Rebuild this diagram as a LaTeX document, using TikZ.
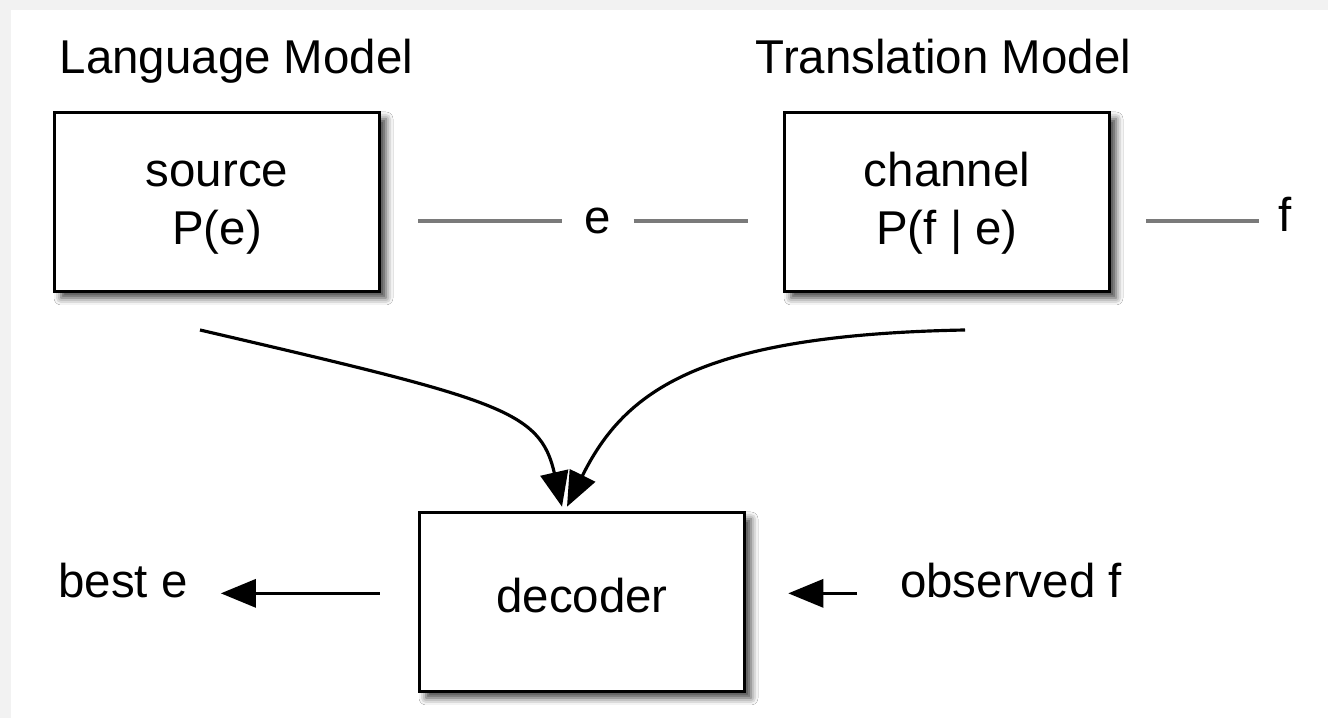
\documentclass[tikz,border=0pt]{standalone}
\usepackage{fontspec}
\setmainfont{Liberation Sans}
\usepackage{xcolor}
\usepackage{tikz}
\usetikzlibrary{calc}
\usetikzlibrary{arrows.meta}
\usetikzlibrary{shadows.blur}
\definecolor{framegray}{HTML}{F2F2F2}
\definecolor{wiregray}{HTML}{7A7A7A}
\def\bigfont{\fontsize{27}{33}\selectfont}

\begin{document}
\begin{tikzpicture}[font=\bigfont,
	model/.style={draw=black,line width=2pt,fill=white,minimum width=6.5cm,minimum height=3.58cm,align=center,inner sep=0pt,
		blur shadow={shadow xshift=0.13cm,shadow yshift=-0.13cm,shadow blur radius=0.14cm,shadow opacity=75}},
	wire/.style={draw=wiregray,line width=2.8pt},
	feed/.style={draw=black,line width=1.8pt,-{Triangle[length=0.7cm,width=0.56cm]}}]
					\useasboundingbox (0,0) rectangle (26.56,14.36);
					\fill[framegray] (0,0) rectangle (26.56,14.36);
					\fill[white] (0.22,0) rectangle (26.56,14.16);
					\node[anchor=base] (lm) at (4.73,12.88) {Language Model};
					\node[anchor=base] (tm) at (18.87,12.88) {Translation Model};
					\node[model,text height=1.9cm] (source) at (4.34,10.32) {source\\P(e)};
					\node[model,text height=1.9cm] (channel) at (18.94,10.32) {channel\\P(f | e)};
					\node[model,text depth=0.28cm] (decoder) at (11.64,2.32) {decoder};
					\node[inner sep=0.44cm] (e) at (11.96,9.94) {e};
					\node[anchor=base] (f) at (25.7,9.72) {f};
					\node[anchor=base] (best) at (2.46,2.40) {best e};
					\node[anchor=base] (obs) at (20.22,2.40) {observed f};
					\coordinate (lmout) at (4.00,7.76);
					\coordinate (tmout) at (19.30,7.76);
					\draw[wire,shorten <=0.74cm] (source.east |- e) -- (e);
					\draw[wire,shorten >=0.7cm] (e) -- (channel.west |- e);
					\draw[wire,shorten <=0.7cm,shorten >=0.26cm] (channel.east |- e) -- (f.west |- e);
					\draw[feed] (lmout) .. controls (10.00,6.36) and (10.80,6.16) .. ([xshift=-0.4cm,yshift=0.08cm]decoder.north);
					\draw[feed] (tmout) .. controls (14.00,7.66) and (12.50,6.56) .. ([xshift=-0.3cm,yshift=0.08cm]decoder.north);
					\draw[feed,shorten <=0.76cm,shorten >=0.54cm] (decoder.west |- best.mid east) -- (best.mid east);
					\draw[feed,shorten <=0.74cm,shorten >=0.84cm] (obs.mid west) -- (decoder.east |- obs.mid west);
				\end{tikzpicture}
\end{document}
